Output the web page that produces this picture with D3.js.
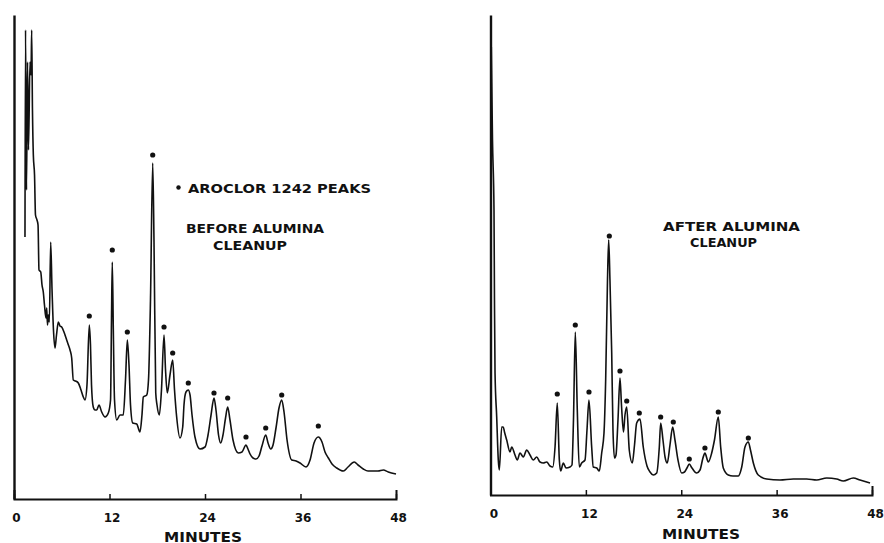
<!DOCTYPE html>
<html>
<head>
<meta charset="utf-8">
<script src="https://cdn.jsdelivr.net/npm/d3@7"></script>
<style>
  html, body { margin: 0; padding: 0; background: #fff; }
  svg { display: block; }
  text { font-family: "DejaVu Sans", sans-serif; font-weight: bold; fill: #111; }
</style>
</head>
<body>
<svg id="chart" width="884" height="543"></svg>
<script>
// Retention axis ticks (minutes)
const tickMinutes = [0, 12, 24, 36, 48];

// Before cleanup: detector trace (minutes, response)
const beforeMinutes = [1.38,1.45,1.57,1.70,1.82,2.01,2.14,2.22,2.32,2.43,2.58,2.70,2.89,3.02,3.14,3.36,3.52,3.68,3.83,4.02,4.11,4.21,4.31,4.44,4.61,4.78,4.96,5.15,5.34,5.57,5.78,5.99,6.28,6.62,6.79,7.04,7.25,7.45,7.73,8.08,8.42,8.71,8.92,9.17,9.46,9.61,9.74,9.96,10.18,10.39,10.68,11.02,11.44,11.85,12.13,12.25,12.35,12.48,12.63,12.91,13.32,13.73,14.01,14.24,14.45,14.64,14.92,15.42,15.83,16.08,16.25,16.68,16.90,17.15,17.43,17.59,17.81,17.97,18.26,18.53,18.85,19.04,19.26,19.60,19.94,20.17,20.44,20.86,21.20,21.36,21.61,21.90,22.12,22.37,22.74,23.37,24.00,24.38,24.76,25.13,25.38,25.70,25.97,26.26,26.58,26.85,27.14,27.52,28.19,28.65,29.15,29.40,29.66,30.03,30.41,30.79,31.16,31.63,31.92,32.26,32.55,32.92,33.30,33.64,33.93,34.31,34.90,35.44,35.94,36.69,37.20,37.70,38.24,38.70,39.08,39.50,39.96,40.55,41.38,41.97,42.76,43.23,43.89,44.48,45.15,45.74,46.41,47.03,48.00];
const beforeResponse = [262,469,309,437,349,437,424,469,389,344,324,284,279,274,229,227,214,207,194,181,191,174,184,177,257,209,169,151,164,177,173,172,167,159,155,149,141,119,118,116,109,102,99,114,174,154,114,92,89,89,94,87,82,86,99,179,237,169,99,79,84,84,119,159,134,94,76,75,67,84,102,104,119,199,336,259,106,94,84,109,164,129,106,124,139,109,82,61,72,94,107,109,104,84,62,50,52,64,84,101,89,64,56,64,81,92,79,59,46,47,54,50,45,41,40,43,53,64,56,50,54,71,91,99,87,59,39,38,36,32,39,56,62,57,47,41,35,31,28,32,37,34,30,28,28,28,29,27,25];

// Before cleanup: marked Aroclor 1242 peaks
const beforePeakMinutes = [9.46,12.35,14.24,17.43,18.85,19.94,21.90,25.13,26.85,29.15,31.63,33.64,38.24];
const beforePeakResponse = [183,249,167,344,172,146,116,106,101,62,71,104,73];

// After cleanup: detector trace (minutes, response)
const afterMinutes = [0.10,0.25,0.44,0.50,0.57,0.78,0.98,1.11,1.41,1.61,1.76,2.04,2.45,2.67,3.08,3.37,3.71,4.13,4.55,4.97,5.39,5.81,6.23,6.64,7.07,7.49,7.83,8.12,8.40,8.66,8.83,9.16,9.50,10.00,10.25,10.44,10.67,10.92,11.17,11.47,11.89,12.14,12.39,12.73,12.93,13.36,13.69,13.99,14.28,14.49,14.72,14.87,15.03,15.25,15.41,15.60,15.79,16.04,16.29,16.48,16.73,16.92,17.14,17.46,17.84,18.12,18.39,18.81,19.22,19.69,20.07,20.48,20.91,21.24,21.41,21.70,21.96,22.24,22.58,22.92,23.21,23.59,24.06,24.41,24.72,25.01,25.35,25.94,26.36,26.73,26.98,27.40,27.83,28.18,28.66,28.96,29.29,29.92,30.51,31.18,31.61,32.02,32.44,32.71,33.07,33.69,34.75,36.42,38.10,39.78,41.04,42.30,43.56,44.39,45.65,46.49,47.75];
const afterResponse = [448,355,285,195,122,78,35,25,68,68,63,55,43,48,40,35,42,38,45,40,35,38,33,32,33,29,28,48,92,35,24,32,27,28,30,75,163,85,28,32,35,65,95,48,28,27,24,42,62,115,215,255,215,142,65,37,40,75,117,90,63,80,88,45,32,50,72,76,48,29,23,20,22,48,72,55,38,32,50,68,55,35,22,23,27,31,27,22,25,37,42,33,42,55,78,48,27,20,19,19,28,48,53,45,32,20,16,15,16,16,15,17,16,14,17,15,12];

// After cleanup: marked Aroclor 1242 peaks
const afterPeakMinutes = [8.40,10.67,12.39,14.95,16.29,17.14,18.72,21.41,23.00,25.01,26.98,28.66,32.44];
const afterPeakResponse = [101,170,103,259,124,94,82,78,73,36,47,83,57];

const svg = d3.select("#chart");

function panel(cfg) {
  const x = d3.scaleLinear().domain([0, 48]).range(cfg.xRange);
  const y = d3.scaleLinear().domain([0, cfg.yMax]).range(cfg.yRange);
  const g = svg.append("g");

  // Vertical axis: plain line
  g.append("g")
    .attr("transform", `translate(${cfg.xRange[0]},0)`)
    .call(d3.axisLeft(y).ticks(0).tickSizeOuter(0))
    .call(s => s.select(".domain").attr("stroke", "#111").attr("stroke-width", 2.4));

  // Time axis with upward ticks
  const ax = g.append("g")
    .attr("transform", `translate(0,${cfg.yRange[0]})`)
    .call(d3.axisBottom(x).tickValues(tickMinutes).tickSizeInner(-5).tickSizeOuter(-9).tickPadding(14)
      .tickFormat(d3.format("d")));
  ax.select(".domain").attr("stroke", "#111").attr("stroke-width", 2);
  ax.selectAll(".tick line").attr("stroke", "#111").attr("stroke-width", 1.5);
  ax.selectAll(".tick text")
    .attr("font-family", "DejaVu Sans, sans-serif")
    .attr("font-weight", "bold")
    .attr("font-size", 12)
    .attr("fill", "#111")
    .attr("dx", cfg.labelDx);

  // Trace
  const pts = cfg.minutes.map((m, i) => [m, cfg.response[i]]);
  g.append("path")
    .datum(pts)
    .attr("fill", "none")
    .attr("stroke", "#111")
    .attr("stroke-width", 1.6)
    .attr("stroke-linejoin", "round")
    .attr("d", d3.line().x(d => x(d[0])).y(d => y(d[1])).curve(d3.curveMonotoneX));

  // Peak markers
  g.selectAll("circle.peak")
    .data(cfg.peakMinutes.map((m, i) => [m, cfg.peakResponse[i]]))
    .join("circle")
    .attr("class", "peak")
    .attr("cx", d => x(d[0]))
    .attr("cy", d => y(d[1]))
    .attr("r", 2.6)
    .attr("fill", "#111");

  // Axis title
  g.append("text")
    .attr("x", cfg.titleX)
    .attr("y", cfg.titleY)
    .attr("font-size", 14)
    .attr("textLength", 78)
    .attr("lengthAdjust", "spacingAndGlyphs")
    .text("MINUTES");

  return g;
}

panel({
  xRange: [14, 396], yRange: [499, 15], yMax: 484, labelDx: 2,
  minutes: beforeMinutes, response: beforeResponse,
  peakMinutes: beforePeakMinutes, peakResponse: beforePeakResponse,
  titleX: 164, titleY: 541.5
});

panel({
  xRange: [490.5, 872], yRange: [495, 15], yMax: 480, labelDx: 3,
  minutes: afterMinutes, response: afterResponse,
  peakMinutes: afterPeakMinutes, peakResponse: afterPeakResponse,
  titleX: 662, titleY: 538.5
});

// Annotations
function label(txt, x, yb, w, size) {
  svg.append("text")
    .attr("x", x).attr("y", yb)
    .attr("font-size", size)
    .attr("textLength", w)
    .attr("lengthAdjust", "spacingAndGlyphs")
    .text(txt);
}
svg.append("circle").attr("cx", 178.5).attr("cy", 187.5).attr("r", 2.2).attr("fill", "#111");
label("AROCLOR 1242 PEAKS", 188, 192.5, 183, 13);
label("BEFORE ALUMINA", 186, 233, 138, 13);
label("CLEANUP", 213, 250, 74, 13);
label("AFTER ALUMINA", 663, 231, 137, 13);
label("CLEANUP", 690, 246.5, 67, 13);
</script>
</body>
</html>
